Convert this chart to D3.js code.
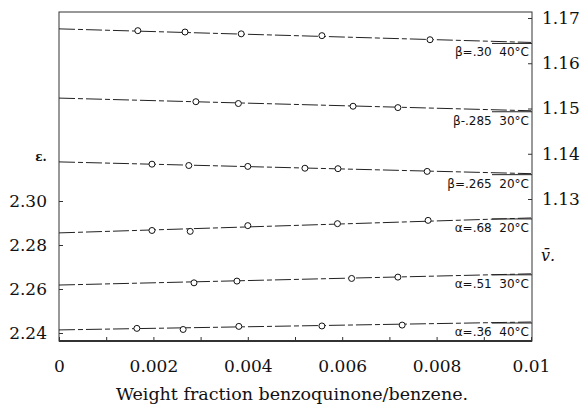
<!DOCTYPE html>
<html>
<head>
<meta charset="utf-8">
<script src="https://cdn.jsdelivr.net/npm/d3@7"></script>
<style>
  body { margin: 0; background: #fff; }
  svg text { fill: #111; }
  .lab { white-space: pre; }
</style>
</head>
<body>
<div id="chart"></div>
<script>
// Dimensions of the page
var width = 584;
var height = 408;

// x axis: weight fraction
var xTicks = [0, 0.002, 0.004, 0.006, 0.008, 0.01];
var xTickLabels = ["0", "0.002", "0.004", "0.006", "0.008", "0.01"];
var xMinorTicks = [0.001, 0.003, 0.005, 0.007, 0.009];

// left axis: dielectric constant, right axis: specific volume
var epsTicks = [2.24, 2.26, 2.28, 2.30];
var vTicks = [1.13, 1.14, 1.15, 1.16, 1.17];

// fitted lines, value at w = 0 and at w = 0.01
var seriesNames = ["β=.30  40°C", "β-.285  30°C", "β=.265  20°C", "α=.68  20°C", "α=.51  30°C", "α=.36  40°C"];
var seriesAxis = ["v", "v", "v", "e", "e", "e"];
var lineStart = [1.1676, 1.1523, 1.1382, 2.2855, 2.2618, 2.2414];
var lineEnd = [1.1646, 1.1495, 1.1356, 2.2923, 2.2669, 2.2450];

// measured points
var beta30W = [0.00167, 0.00267, 0.00386, 0.00557, 0.00786];
var beta30V = [1.1672, 1.1669, 1.1665, 1.1661, 1.1652];
var beta285W = [0.0029, 0.0038, 0.00623, 0.00718];
var beta285V = [1.1515, 1.1511, 1.1505, 1.1502];
var beta265W = [0.00197, 0.00275, 0.0040, 0.00521, 0.00591, 0.0078];
var beta265V = [1.1377, 1.1374, 1.1372, 1.1368, 1.1367, 1.1361];
var alpha68W = [0.00197, 0.00278, 0.0040, 0.0059, 0.00782];
var alpha68E = [2.2866, 2.2862, 2.2888, 2.2897, 2.2912];
var alpha51W = [0.00286, 0.00377, 0.0062, 0.00718];
var alpha51E = [2.2628, 2.2636, 2.2648, 2.2654];
var alpha36W = [0.00165, 0.00263, 0.00381, 0.00557, 0.00727];
var alpha36E = [2.2421, 2.2416, 2.2430, 2.2432, 2.2436];

var pointsW = [beta30W, beta285W, beta265W, alpha68W, alpha51W, alpha36W];
var pointsY = [beta30V, beta285V, beta265V, alpha68E, alpha51E, alpha36E];

var frame = {left: 59, right: 532, top: 12, bottom: 341};

var svg = d3.select("#chart").append("svg")
  .attr("width", width)
  .attr("height", height);

// Scales
var x = d3.scaleLinear().domain([0, 0.01]).range([59, 531]);
var yE = d3.scaleLinear().domain([2.24, 2.30]).range([333, 201]);
var yV = d3.scaleLinear().domain([1.13, 1.17]).range([199, 18]);

function yFor(axis) { return axis === "v" ? yV : yE; }

// Frame
svg.append("rect")
  .attr("x", frame.left)
  .attr("y", frame.top)
  .attr("width", frame.right - frame.left)
  .attr("height", frame.bottom - frame.top)
  .attr("fill", "none")
  .attr("stroke", "#333")
  .attr("stroke-width", 1);

svg.append("line")
  .attr("x1", frame.left).attr("x2", frame.right)
  .attr("y1", frame.bottom).attr("y2", frame.bottom)
  .attr("stroke", "#111")
  .attr("stroke-width", 1.6);

// Bottom axis
var xAxis = svg.append("g")
  .attr("transform", "translate(0," + frame.bottom + ")")
  .call(d3.axisBottom(x)
    .tickValues(xTicks)
    .tickSizeInner(-4)
    .tickSizeOuter(0)
    .tickPadding(19)
    .tickFormat(function(d, i) { return xTickLabels[i]; }));
xAxis.select(".domain").remove();

svg.append("g")
  .attr("transform", "translate(0," + frame.bottom + ")")
  .call(d3.axisBottom(x).tickValues(xMinorTicks).tickSizeInner(-4).tickSizeOuter(0).tickFormat(""))
  .select(".domain").remove();

// Left axis
var leftAxis = svg.append("g")
  .attr("transform", "translate(" + frame.left + ",0)")
  .call(d3.axisLeft(yE)
    .tickValues(epsTicks)
    .tickSizeInner(-4)
    .tickSizeOuter(0)
    .tickPadding(12)
    .tickFormat(d3.format(".2f")));
leftAxis.select(".domain").remove();

// Right axis
var rightAxis = svg.append("g")
  .attr("transform", "translate(" + frame.right + ",0)")
  .call(d3.axisRight(yV)
    .tickValues(vTicks)
    .tickSizeInner(-4)
    .tickSizeOuter(0)
    .tickPadding(10)
    .tickFormat(d3.format(".2f")));
rightAxis.select(".domain").remove();

svg.selectAll(".tick line").attr("stroke", "#333");
svg.selectAll(".tick text")
  .attr("font-family", "DejaVu Serif")
  .attr("font-size", 17)
  .attr("fill", "#111");

// Fitted lines
svg.selectAll(".fit")
  .data(seriesNames)
  .enter().append("line")
  .attr("class", "fit")
  .attr("x1", x(0))
  .attr("x2", x(0.01))
  .attr("y1", function(d, i) { return yFor(seriesAxis[i])(lineStart[i]); })
  .attr("y2", function(d, i) { return yFor(seriesAxis[i])(lineEnd[i]); })
  .attr("stroke", "#222")
  .attr("stroke-width", 1)
  .attr("stroke-dasharray", "16,3,5,3");

// Points
seriesNames.forEach(function(name, i) {
  var yS = yFor(seriesAxis[i]);
  svg.selectAll(".pt" + i)
    .data(pointsW[i])
    .enter().append("circle")
    .attr("class", "pt" + i)
    .attr("cx", function(d) { return x(d); })
    .attr("cy", function(d, j) { return yS(pointsY[i][j]); })
    .attr("r", 3)
    .attr("fill", "#fff")
    .attr("stroke", "#111")
    .attr("stroke-width", 1);
});

// Series labels under the right end of each line
svg.selectAll(".lab")
  .data(seriesNames)
  .enter().append("text")
  .attr("class", "lab")
  .attr("x", frame.right - 3)
  .attr("y", function(d, i) { return yFor(seriesAxis[i])(lineEnd[i]) + 14; })
  .attr("text-anchor", "end")
  .attr("font-family", "DejaVu Sans")
  .attr("font-size", 12)
  .text(function(d) { return d; });

svg.selectAll(".labline")
  .data(seriesNames)
  .enter().append("line")
  .attr("class", "labline")
  .attr("x1", frame.right - 40)
  .attr("x2", frame.right)
  .attr("y1", function(d, i) { return yFor(seriesAxis[i])(lineEnd[i]) + 1; })
  .attr("y2", function(d, i) { return yFor(seriesAxis[i])(lineEnd[i]) + 1; })
  .attr("stroke", "#222")
  .attr("stroke-width", 1);

// Axis names
svg.append("text")
  .attr("x", 41).attr("y", 161)
  .attr("text-anchor", "middle")
  .attr("font-family", "DejaVu Serif")
  .attr("font-weight", "bold")
  .attr("font-size", 12)
  .text("ε.");

svg.append("text")
  .attr("x", 541).attr("y", 261)
  .attr("font-family", "DejaVu Serif")
  .attr("font-style", "italic")
  .attr("font-size", 16)
  .text("v\u0304.");

svg.append("text")
  .attr("x", 292).attr("y", 400)
  .attr("text-anchor", "middle")
  .attr("font-family", "DejaVu Serif")
  .attr("font-size", 17.5)
  .text("Weight fraction benzoquinone/benzene.");
</script>
</body>
</html>
